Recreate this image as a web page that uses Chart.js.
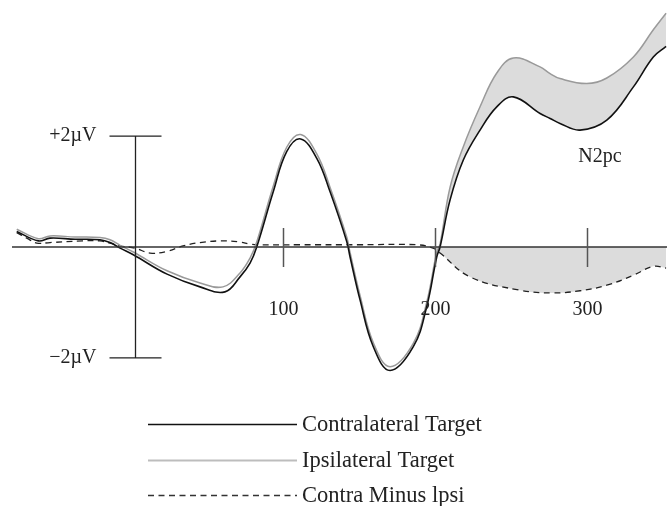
<!DOCTYPE html>
<html>
<head>
<meta charset="utf-8">
<script src="https://cdn.jsdelivr.net/npm/chart.js@4.4.1/dist/chart.umd.min.js"></script>
<style>
  html, body { margin: 0; padding: 0; background: #fff; }
  #wrap { width: 667px; height: 506px; }
</style>
</head>
<body>
<div id="wrap"><canvas id="erpChart" width="667" height="506"></canvas></div>
<script>
// time (ms) and amplitude (µV)
const contraTimes = [-75.2, -61, -53.3, -36.8, -20.4, -13.8, -7.2, 1.5, 23.7, 45.4, 61.8, 71.7, 78.3, 82.7, 93.6, 102.4, 111.6, 122.2, 130.9, 141.9, 144.1, 150.7, 159.4, 170.4, 185.7, 194.5, 201.1, 203.3, 209.9, 218.6, 229.6, 240.6, 251.5, 269.1, 275.7, 282.2, 295.4, 313, 330.5, 343.6, 352];
const contraValues = [0.28, 0.11, 0.16, 0.14, 0.13, 0.08, -0.02, -0.14, -0.49, -0.72, -0.81, -0.54, -0.29, 0.0, 1.0, 1.72, 1.95, 1.6, 1.0, 0.1, -0.18, -0.96, -1.8, -2.23, -1.8, -1.08, -0.18, 0.0, 0.85, 1.57, 2.11, 2.53, 2.71, 2.41, 2.32, 2.23, 2.11, 2.29, 2.89, 3.43, 3.62];

const ipsiTimes = [-75.2, -61, -53.3, -36.8, -20.4, -13.8, -7.2, 1.5, 23.7, 45.4, 60.5, 71.7, 78.3, 82.7, 93.6, 102.4, 111.6, 122.2, 130.9, 141.9, 144.1, 150.7, 159.4, 170.4, 185.7, 194.5, 201.1, 203.3, 209.9, 218.6, 229.6, 240.6, 251.5, 269.1, 275.7, 282.2, 299.8, 313, 330.5, 343.6, 352];
const ipsiValues = [0.32, 0.15, 0.2, 0.18, 0.17, 0.13, 0.03, -0.09, -0.43, -0.65, -0.72, -0.47, -0.2, 0.09, 1.1, 1.8, 2.03, 1.68, 1.08, 0.18, -0.1, -0.88, -1.73, -2.16, -1.74, -1.0, -0.1, 0.05, 1.08, 1.81, 2.53, 3.14, 3.41, 3.25, 3.13, 3.04, 2.95, 3.05, 3.43, 3.92, 4.22];

const diffTimes = [-75.2, -68.6, -62, -53.3, -31.6, -20.4, -13.8, -7.2, 2.6, 12.5, 23.7, 34.2, 45.4, 58.6, 71.7, 78.3, 84.9, 111, 150, 188, 198.7, 203.3, 223, 255.9, 277.6, 295.4, 313, 330.5, 343.6, 352];
const diffValues = [0.26, 0.16, 0.07, 0.08, 0.11, 0.11, 0.07, 0.02, -0.02, -0.11, -0.08, 0.02, 0.08, 0.11, 0.09, 0.05, 0.04, 0.04, 0.04, 0.04, -0.02, -0.11, -0.54, -0.78, -0.83, -0.79, -0.69, -0.51, -0.35, -0.38];

const xTickLabels = [100, 200, 300];
const yBarLabels = ['+2\u00b5V', '\u22122\u00b5V'];
const yBarValues = [2, -2];
const seriesNames = ['Contralateral Target', 'Ipsilateral Target', 'Contra Minus lpsi'];
const n2pcStart = 198; // shaded N2pc window starts here

function pts(times, values, from) {
  const out = [];
  for (let i = 0; i < times.length; i++) {
    if (from === undefined || times[i] >= from) out.push({x: times[i], y: values[i]});
  }
  return out;
}

const serif = '"Liberation Serif", "DejaVu Serif", serif';
const lineColors = ['#111111', '#9a9a9a', '#222222'];
const legendColors = ['#111111', '#bdbdbd', '#333333'];
const shade = '#dcdcdc';
const smooth = 0.4;

const axesPlugin = {
  id: 'erpAxes',
  afterDatasetsDraw(chart) {
    const ctx = chart.ctx;
    const xs = chart.scales.x, ys = chart.scales.y;
    const y0 = ys.getPixelForValue(0);
    ctx.save();
    // horizontal axis
    ctx.strokeStyle = '#333';
    ctx.lineWidth = 1.3;
    ctx.beginPath();
    ctx.moveTo(12, y0);
    ctx.lineTo(chart.width, y0);
    ctx.stroke();
    // ticks and labels
    ctx.strokeStyle = '#555';
    ctx.lineWidth = 1.5;
    ctx.font = '20px ' + serif;
    ctx.fillStyle = '#222';
    ctx.textAlign = 'center';
    ctx.textBaseline = 'middle';
    xTickLabels.forEach(function(t) {
      const px = Math.round(xs.getPixelForValue(t)) + 0.5;
      ctx.beginPath();
      ctx.moveTo(px, y0 - 19);
      ctx.lineTo(px, y0 + 20);
      ctx.stroke();
      ctx.fillText(String(t), px, y0 + 63);
    });
    // calibration bar
    const bx = Math.round(xs.getPixelForValue(2.6)) + 0.5;
    const yt = ys.getPixelForValue(yBarValues[0]);
    const yb = ys.getPixelForValue(yBarValues[1]);
    ctx.strokeStyle = '#222';
    ctx.lineWidth = 1.3;
    ctx.beginPath();
    ctx.moveTo(bx, yt); ctx.lineTo(bx, yb);
    ctx.moveTo(bx - 26, yt); ctx.lineTo(bx + 26, yt);
    ctx.moveTo(bx - 26, yb); ctx.lineTo(bx + 26, yb);
    ctx.stroke();
    ctx.textAlign = 'right';
    ctx.fillText(yBarLabels[0], bx - 39, yt);
    ctx.fillText(yBarLabels[1], bx - 39, yb);
    // N2pc label
    ctx.textAlign = 'center';
    ctx.fillText('N2pc', 600, 157);
    // legend
    const rows = [424, 460, 495];
    ctx.font = '22.5px ' + serif;
    ctx.textAlign = 'left';
    rows.forEach(function(ry, i) {
      ctx.strokeStyle = legendColors[i];
      ctx.lineWidth = i === 1 ? 2 : 1.5;
      ctx.setLineDash(i === 2 ? [6, 4.5] : []);
      ctx.beginPath();
      ctx.moveTo(148, ry + 0.5);
      ctx.lineTo(297, ry + 0.5);
      ctx.stroke();
      ctx.setLineDash([]);
      ctx.fillText(seriesNames[i], 302, ry + 1);
    });
    ctx.restore();
  }
};

const config = {
  type: 'line',
  data: {
    datasets: [
      {
        label: 'shadeContra',
        data: pts(contraTimes, contraValues, 203),
        borderWidth: 0,
        pointRadius: 0,
        fill: false,
        tension: smooth,
        order: 10
      },
      {
        label: 'shadeIpsi',
        data: pts(ipsiTimes, ipsiValues, 203),
        borderWidth: 0,
        pointRadius: 0,
        backgroundColor: shade,
        fill: 0,
        tension: smooth,
        order: 9
      },
      {
        label: 'shadeDiff',
        data: pts(diffTimes, diffValues, n2pcStart),
        borderWidth: 0,
        pointRadius: 0,
        backgroundColor: shade,
        fill: {value: 0},
        tension: smooth,
        order: 8
      },
      {
        label: seriesNames[2],
        data: pts(diffTimes, diffValues),
        borderColor: lineColors[2],
        borderWidth: 1.3,
        borderDash: [6, 4.5],
        pointRadius: 0,
        fill: false,
        tension: smooth,
        order: 3
      },
      {
        label: seriesNames[1],
        data: pts(ipsiTimes, ipsiValues),
        borderColor: lineColors[1],
        borderWidth: 1.5,
        pointRadius: 0,
        fill: false,
        tension: smooth,
        order: 2
      },
      {
        label: seriesNames[0],
        data: pts(contraTimes, contraValues),
        borderColor: lineColors[0],
        borderWidth: 1.6,
        pointRadius: 0,
        fill: false,
        tension: smooth,
        order: 1
      }
    ]
  },
  options: {
    responsive: false,
    animation: false,
    events: [],
    layout: { padding: { left: 0, right: 0, top: 0, bottom: 106 } },
    scales: {
      x: { type: 'linear', min: -86.2, max: 352.6, display: false },
      y: { type: 'linear', min: -2.762, max: 4.458, display: false }
    },
    plugins: {
      legend: { display: false },
      tooltip: { enabled: false },
      title: { display: false }
    }
  },
  plugins: [axesPlugin]
};

new Chart(document.getElementById('erpChart'), config);
</script>
</body>
</html>
